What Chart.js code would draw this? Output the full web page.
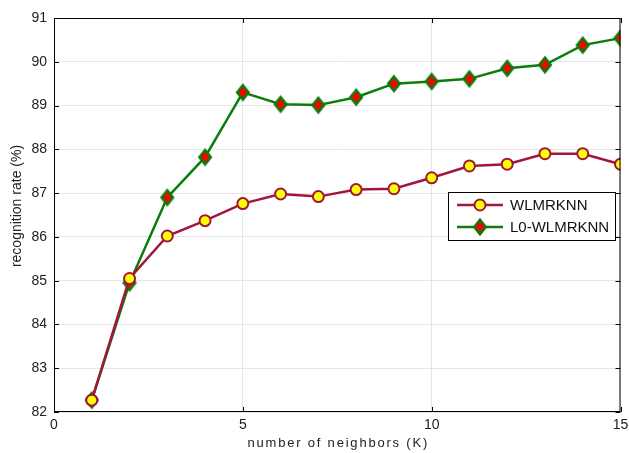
<!DOCTYPE html>
<html>
<head>
<meta charset="utf-8">
<script src="https://cdn.jsdelivr.net/npm/chart.js@4.4.1/dist/chart.umd.min.js"></script>
<style>
  html, body { margin: 0; padding: 0; background: #fff; }
  #wrap { width: 629px; height: 453px; }
</style>
</head>
<body>
<div id="wrap"><canvas id="chart" width="629" height="453"></canvas></div>
<script>
// --- DATA ---
const neighbors = [1, 2, 3, 4, 5, 6, 7, 8, 9, 10, 11, 12, 13, 14, 15];
const wlmrknn = [82.27, 85.05, 86.02, 86.37, 86.76, 86.98, 86.92, 87.08, 87.10, 87.35, 87.62, 87.66, 87.90, 87.90, 87.66];
const l0Wlmrknn = [82.27, 84.95, 86.90, 87.82, 89.30, 89.03, 89.01, 89.19, 89.50, 89.55, 89.61, 89.85, 89.93, 90.38, 90.54];
const xTicks = [0, 5, 10, 15];
const yTicks = [82, 83, 84, 85, 86, 87, 88, 89, 90, 91];
const xTitle = 'number of neighbors (K)';
const yTitle = 'recognition rate (%)';

const FONT = "'Liberation Sans', Arial, sans-serif";

// box + inward ticks on all four sides (matlab style)
const framePlugin = {
    id: 'frame',
    afterDatasetsDraw(chart) {
        const { ctx, chartArea: a, scales } = chart;
        ctx.save();
        ctx.strokeStyle = '#000';
        ctx.lineWidth = 1;
        ctx.strokeRect(a.left + 0.5, a.top + 0.5, a.right - a.left - 1, a.bottom - a.top - 1);
        ctx.beginPath();
        const len = 5;
        xTicks.forEach(v => {
            const x = Math.round(scales.x.getPixelForValue(v)) + 0.5;
            ctx.moveTo(x, a.bottom); ctx.lineTo(x, a.bottom - len);
            ctx.moveTo(x, a.top); ctx.lineTo(x, a.top + len);
        });
        yTicks.forEach(v => {
            const y = Math.round(scales.y.getPixelForValue(v)) + 0.5;
            ctx.moveTo(a.left, y); ctx.lineTo(a.left + len, y);
            ctx.moveTo(a.right, y); ctx.lineTo(a.right - len, y);
        });
        ctx.stroke();

        // axis titles
        ctx.fillStyle = '#222';
        ctx.textAlign = 'center';
        ctx.textBaseline = 'middle';
        ctx.font = '13px ' + FONT;
        ctx.letterSpacing = '1.8px';
        ctx.fillText(xTitle, (a.left + a.right) / 2 + 1, 443);
        ctx.letterSpacing = '0px';
        ctx.font = '14px ' + FONT;
        ctx.translate(17, (a.top + a.bottom) / 2 - 9);
        ctx.rotate(-Math.PI / 2);
        ctx.fillText(yTitle, 0, 0);
        ctx.restore();
    }
};

function drawMarker(ctx, ds, x, y) {
    ctx.fillStyle = ds.pointBackgroundColor;
    ctx.strokeStyle = ds.pointBorderColor;
    ctx.lineWidth = ds.pointBorderWidth;
    ctx.beginPath();
    if (ds.pointStyle === 'circle') {
        ctx.arc(x, y, ds.pointRadius, 0, Math.PI * 2);
    } else {
        const r = ds.pointRadius * 1.2;
        ctx.moveTo(x, y - r); ctx.lineTo(x + r * 0.8, y);
        ctx.lineTo(x, y + r); ctx.lineTo(x - r * 0.8, y);
        ctx.closePath();
    }
    ctx.fill(); ctx.stroke();
}

// legend box inside the plot area
const legendPlugin = {
    id: 'innerLegend',
    afterDraw(chart) {
        const { ctx } = chart;
        const x0 = 448, y0 = 192, w = 167, h = 48;
        ctx.save();
        ctx.fillStyle = '#fff';
        ctx.fillRect(x0, y0, w, h);
        ctx.strokeStyle = '#000';
        ctx.lineWidth = 1;
        ctx.strokeRect(x0 + 0.5, y0 + 0.5, w, h);
        chart.data.datasets.forEach((ds, i) => {
            const cy = y0 + 13 + i * 22;
            ctx.strokeStyle = ds.borderColor;
            ctx.lineWidth = 2.5;
            ctx.beginPath();
            ctx.moveTo(x0 + 9, cy); ctx.lineTo(x0 + 55, cy);
            ctx.stroke();
            drawMarker(ctx, ds, x0 + 32, cy);
            ctx.fillStyle = '#111';
            ctx.font = '15px ' + FONT;
            ctx.textBaseline = 'middle';
            ctx.fillText(ds.label, x0 + 62, cy + 1);
        });
        ctx.restore();
    }
};

// matlab-like diamond marker (taller than wide)
function diamond(r) {
    const c = document.createElement('canvas');
    const s = Math.ceil(r * 2.6) + 4;
    c.width = s; c.height = s;
    const g = c.getContext('2d');
    drawMarker(g, { pointStyle: 'diamond', pointRadius: r, pointBorderWidth: 2.5,
        pointBackgroundColor: '#ff0000', pointBorderColor: '#0a7d0a' }, s / 2, s / 2);
    return c;
}

const ctx = document.getElementById('chart').getContext('2d');
new Chart(ctx, {
    type: 'line',
    data: {
        labels: neighbors,
        datasets: [
            {
                label: 'WLMRKNN',
                data: neighbors.map((k, i) => ({ x: k, y: wlmrknn[i] })),
                borderColor: '#a0173a',
                borderWidth: 2.5,
                pointStyle: 'circle',
                pointRadius: 5.5,
                pointBorderWidth: 2,
                pointBackgroundColor: '#ffff00',
                pointBorderColor: '#a0173a',
                tension: 0,
                fill: false
            },
            {
                label: 'L0-WLMRKNN',
                data: neighbors.map((k, i) => ({ x: k, y: l0Wlmrknn[i] })),
                borderColor: '#0a7d0a',
                borderWidth: 2.5,
                pointStyle: diamond(6),
                pointRadius: 6,
                pointBorderWidth: 2.5,
                pointBackgroundColor: '#ff0000',
                pointBorderColor: '#0a7d0a',
                tension: 0,
                fill: false
            }
        ]
    },
    options: {
        responsive: false,
        animation: false,
        layout: { padding: { left: 0, right: 0, top: 18, bottom: 0 } },
        plugins: {
            legend: { display: false },
            tooltip: { enabled: false }
        },
        scales: {
            x: {
                type: 'linear',
                min: 0,
                max: 15,
                afterBuildTicks: s => { s.ticks = xTicks.map(v => ({ value: v })); },
                afterFit: s => { s.height = 41; s.paddingRight = 7; },
                border: { display: false },
                grid: { color: '#e6e6e6', drawTicks: false },
                ticks: { color: '#222', font: { family: FONT, size: 14 }, padding: 5, maxRotation: 0 }
            },
            y: {
                type: 'linear',
                min: 82,
                max: 91,
                afterBuildTicks: s => { s.ticks = yTicks.map(v => ({ value: v })); },
                afterFit: s => { s.width = 54; },
                border: { display: false },
                grid: { color: '#e6e6e6', drawTicks: false },
                ticks: { color: '#222', font: { family: FONT, size: 14 }, padding: 7 }
            }
        }
    },
    plugins: [framePlugin, legendPlugin]
});
</script>
</body>
</html>
